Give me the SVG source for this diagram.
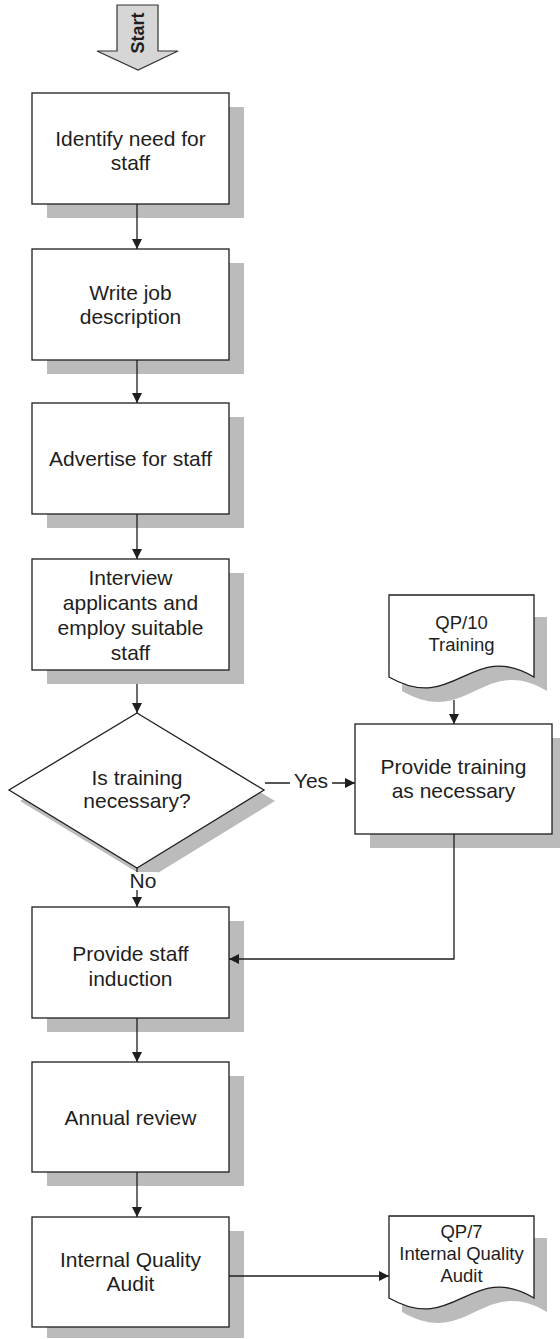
<svg xmlns="http://www.w3.org/2000/svg" width="560" height="1339" viewBox="0 0 560 1339">
  <style>
    .shape { fill: #ffffff; stroke: #1e1e1e; stroke-width: 1.3; }
    .shadow { fill: #bbbbbb; stroke: none; }
    .lbl { font-family: "Liberation Sans", Arial, sans-serif; font-size: 21px; fill: #1e1e1e; text-anchor: middle; }
    .doc { font-family: "Liberation Sans", Arial, sans-serif; font-size: 18.5px; fill: #1e1e1e; text-anchor: middle; }
    .edge { fill: none; stroke: #1e1e1e; stroke-width: 1.3; }
  </style>
  <defs>
    <marker id="arrow" markerUnits="userSpaceOnUse" markerWidth="11" markerHeight="11" refX="10" refY="5" orient="auto">
      <path d="M0,0 L10,5 L0,10 Z" fill="#1e1e1e"/>
    </marker>
  </defs>

  <rect width="560" height="1339" fill="#ffffff"/>

  <!-- start marker -->
  <g id="start">
    <polygon points="117,5 158,5 158,51 178,51 138,70 97,51 117,51" fill="#d6d6d6" stroke="#333333" stroke-width="1.2"/>
    <text transform="translate(143.5,33) rotate(-90)" font-family="Liberation Sans, Arial, sans-serif" font-size="18px" font-weight="bold" fill="#1e1e1e" text-anchor="middle">Start</text>
  </g>

  <g id="identify-need">
    <rect class="shadow" x="47" y="107" width="197" height="111"/>
    <rect class="shape" x="32" y="93" width="197" height="111"/>
    <text class="lbl" x="130.5" y="146">Identify need for</text>
    <text class="lbl" x="130.5" y="170">staff</text>
  </g>

  <g id="write-job">
    <rect class="shadow" x="47" y="263" width="197" height="111"/>
    <rect class="shape" x="32" y="249" width="197" height="111"/>
    <text class="lbl" x="130.5" y="300">Write job</text>
    <text class="lbl" x="130.5" y="324">description</text>
  </g>

  <g id="advertise">
    <rect class="shadow" x="47" y="417" width="197" height="111"/>
    <rect class="shape" x="32" y="403" width="197" height="111"/>
    <text class="lbl" x="130.5" y="466">Advertise for staff</text>
  </g>

  <g id="interview">
    <rect class="shadow" x="47" y="573" width="197" height="111"/>
    <rect class="shape" x="32" y="559" width="197" height="111"/>
    <text class="lbl" x="130.5" y="584.5">Interview</text>
    <text class="lbl" x="130.5" y="609.5">applicants and</text>
    <text class="lbl" x="130.5" y="634.5">employ suitable</text>
    <text class="lbl" x="130.5" y="659.5">staff</text>
  </g>

  <g id="training-decision">
    <polygon class="shadow" points="148,724 275,801 148,879 20,801"/>
    <polygon class="shape" points="137,713 264,790 137,868 9,790"/>
    <text class="lbl" x="137" y="785">Is training</text>
    <text class="lbl" x="137" y="808">necessary?</text>
  </g>

  <g id="qp10-doc">
    <path class="shadow" d="M404,617 H547 V691 C483,653 468,729 402,691 Z"/>
    <path class="shape" d="M389,595 H534 V677 C470,639 455,715 389,677 Z"/>
    <text class="doc" x="461.5" y="629">QP/10</text>
    <text class="doc" x="461.5" y="651">Training</text>
  </g>

  <g id="provide-training">
    <rect class="shadow" x="370" y="738" width="197" height="110"/>
    <rect class="shape" x="355" y="724" width="197" height="110"/>
    <text class="lbl" x="453.5" y="774">Provide training</text>
    <text class="lbl" x="453.5" y="798">as necessary</text>
  </g>

  <g id="induction">
    <rect class="shadow" x="47" y="921" width="197" height="111"/>
    <rect class="shape" x="32" y="907" width="197" height="111"/>
    <text class="lbl" x="130.5" y="960.5">Provide staff</text>
    <text class="lbl" x="130.5" y="985.5">induction</text>
  </g>

  <g id="annual-review">
    <rect class="shadow" x="47" y="1076" width="197" height="110"/>
    <rect class="shape" x="32" y="1062" width="197" height="110"/>
    <text class="lbl" x="130.5" y="1125">Annual review</text>
  </g>

  <g id="quality-audit">
    <rect class="shadow" x="47" y="1231" width="197" height="107"/>
    <rect class="shape" x="32" y="1217" width="197" height="110"/>
    <text class="lbl" x="130.5" y="1267">Internal Quality</text>
    <text class="lbl" x="130.5" y="1291">Audit</text>
  </g>

  <g id="qp7-doc">
    <path class="shadow" d="M404,1238 H547 V1312 C483,1274 468,1350 402,1312 Z"/>
    <path class="shape" d="M389,1216 H534 V1298 C470,1260 455,1336 389,1298 Z"/>
    <text class="doc" x="461.5" y="1238">QP/7</text>
    <text class="doc" x="461.5" y="1260">Internal Quality</text>
    <text class="doc" x="461.5" y="1282">Audit</text>
  </g>

  <!-- connectors, drawn over the shadows -->
  <g id="connectors">
    <line class="edge" x1="137" y1="204" x2="137" y2="249" marker-end="url(#arrow)"/>
    <line class="edge" x1="137" y1="360" x2="137" y2="403" marker-end="url(#arrow)"/>
    <line class="edge" x1="137" y1="514" x2="137" y2="559" marker-end="url(#arrow)"/>
    <line class="edge" x1="137" y1="684" x2="137" y2="713" marker-end="url(#arrow)"/>
    <line class="edge" x1="137" y1="868" x2="137" y2="907" marker-end="url(#arrow)"/>
    <line class="edge" x1="265" y1="783" x2="355" y2="783" marker-end="url(#arrow)"/>
    <line class="edge" x1="454" y1="700" x2="454" y2="724" marker-end="url(#arrow)"/>
    <polyline class="edge" points="454,834 454,959 229,959" marker-end="url(#arrow)"/>
    <line class="edge" x1="137" y1="1018" x2="137" y2="1062" marker-end="url(#arrow)"/>
    <line class="edge" x1="137" y1="1172" x2="137" y2="1217" marker-end="url(#arrow)"/>
    <line class="edge" x1="229" y1="1276" x2="389" y2="1276" marker-end="url(#arrow)"/>
    <!-- branch labels -->
    <rect x="290" y="770" width="42" height="22" fill="#ffffff"/>
    <text class="lbl" x="311" y="788">Yes</text>
    <rect x="129" y="872" width="29" height="18" fill="#ffffff"/>
    <text class="lbl" x="143" y="888">No</text>
  </g>
</svg>
